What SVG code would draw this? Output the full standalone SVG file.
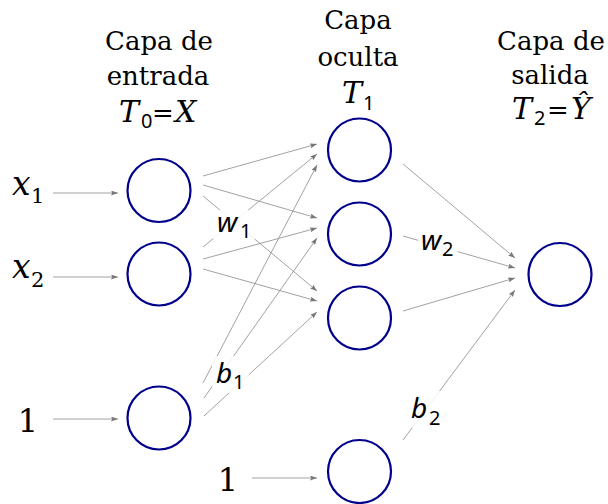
<svg xmlns="http://www.w3.org/2000/svg" width="608" height="504" viewBox="0 0 608 504">
<defs>
<style>
.node{fill:none;stroke:#00008b;stroke-width:2.2}
.edge{stroke:#8a8a8a;stroke-width:0.8;fill:none;marker-end:url(#ah)}
.cap{font-family:'DejaVu Serif','Liberation Serif',serif;font-size:26px;fill:#000;text-anchor:middle}
.mi{font-family:'DejaVu Serif','Liberation Serif',serif;font-style:italic;fill:#000}
.rm{font-family:'DejaVu Serif','Liberation Serif',serif;fill:#000}
.sub{font-family:'Noto Sans','DejaVu Sans',sans-serif;font-size:20px;fill:#000}
.si{font-family:'Noto Sans','DejaVu Sans',sans-serif;font-style:italic;font-size:28px;fill:#000}
.lbg{fill:#fff;fill-opacity:0.85}
</style>
<marker id="ah" viewBox="0 0 7 5" refX="7" refY="2.5" markerWidth="7" markerHeight="5" markerUnits="userSpaceOnUse" orient="auto">
<path d="M0,0 L7,2.5 L0,5 L1.2,2.5 z" fill="#777"/>
</marker>
</defs>
<rect width="608" height="504" fill="#fff"/>

<g id="headers">
<text class="cap" x="159" y="50">Capa de</text>
<text class="cap" x="158" y="85">entrada</text>
<text class="mi" x="119" y="122" font-size="30">T</text>
<text class="sub" x="141" y="128">0</text>
<text class="rm" x="163" y="122" font-size="26" text-anchor="middle">=</text>
<text class="mi" x="175" y="122" font-size="30">X</text>

<text class="cap" x="358" y="29">Capa</text>
<text class="cap" x="358" y="66">oculta</text>
<text class="mi" x="342" y="103" font-size="30">T</text>
<text class="sub" x="363" y="110">1</text>

<text class="cap" x="551" y="50">Capa de</text>
<text class="cap" x="550" y="84">salida</text>
<text class="mi" x="512" y="119" font-size="30">T</text>
<text class="sub" x="534" y="125">2</text>
<text class="rm" x="558" y="119" font-size="26" text-anchor="middle">=</text>
<text class="mi" x="571" y="119" font-size="30">Ŷ</text>
</g>

<g id="connectors">
<line class="edge" x1="53" y1="193" x2="118" y2="193"/>
<line class="edge" x1="53" y1="277" x2="118" y2="277"/>
<line class="edge" x1="53" y1="419" x2="118" y2="419"/>
<line class="edge" x1="252" y1="478" x2="317" y2="478"/>

<line class="edge" x1="203" y1="176" x2="317" y2="144"/>
<line class="edge" x1="203" y1="185" x2="317" y2="218"/>
<line class="edge" x1="203" y1="196" x2="317" y2="291"/>
<line class="edge" x1="203" y1="247" x2="317" y2="154"/>
<line class="edge" x1="203" y1="259" x2="317" y2="228"/>
<line class="edge" x1="203" y1="269" x2="317" y2="301"/>
<line class="edge" x1="203" y1="383" x2="317" y2="165"/>
<line class="edge" x1="204" y1="398" x2="317" y2="238"/>
<line class="edge" x1="204" y1="416" x2="317" y2="312"/>

<line class="edge" x1="403" y1="164" x2="515" y2="258"/>
<line class="edge" x1="403" y1="236" x2="515" y2="268"/>
<line class="edge" x1="403" y1="311" x2="515" y2="278"/>
<line class="edge" x1="403" y1="440" x2="515" y2="290"/>
</g>

<g id="labels">
<rect class="lbg" x="213" y="210" width="42" height="32" rx="4"/>
<text class="si" x="217" y="232">w</text>
<text class="sub" x="240" y="238">1</text>

<rect class="lbg" x="212" y="356" width="37" height="37" rx="4"/>
<text class="si" x="216" y="383">b</text>
<text class="sub" x="233" y="389">1</text>

<rect class="lbg" x="418" y="230" width="40" height="30" rx="4"/>
<text class="si" x="421" y="250">w</text>
<text class="sub" x="442" y="256">2</text>

<rect class="lbg" x="409" y="391" width="35" height="37" rx="4"/>
<text class="si" x="411" y="418">b</text>
<text class="sub" x="429" y="425">2</text>
</g>

<g id="in1"><circle class="node" cx="159" cy="190.5" r="31.5"/>
<text class="mi" x="12" y="195" font-size="33">x</text><text class="rm" x="31" y="203" font-size="21">1</text></g>
<g id="in2"><circle class="node" cx="159" cy="274" r="31.5"/>
<text class="mi" x="12" y="278" font-size="33">x</text><text class="rm" x="31" y="287" font-size="21">2</text></g>
<g id="in_bias"><circle class="node" cx="159" cy="418" r="31.5"/>
<text class="rm" x="28" y="432" font-size="32" text-anchor="middle">1</text></g>
<g id="h1"><circle class="node" cx="359.5" cy="150" r="31.5"/></g>
<g id="h2"><circle class="node" cx="359.5" cy="234" r="31.5"/></g>
<g id="h3"><circle class="node" cx="359.5" cy="318" r="31.5"/></g>
<g id="h_bias"><circle class="node" cx="359.5" cy="471.5" r="31.5"/>
<text class="rm" x="228" y="491" font-size="32" text-anchor="middle">1</text></g>
<g id="out"><circle class="node" cx="560" cy="274.5" r="31.5"/></g>
</svg>
